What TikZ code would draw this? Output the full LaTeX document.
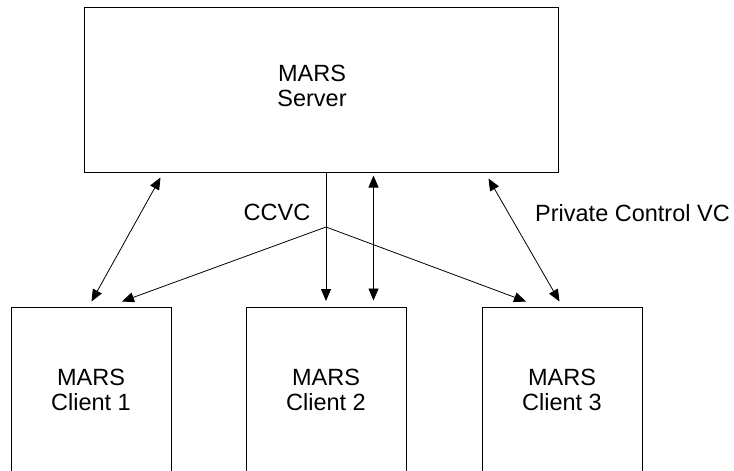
\documentclass[tikz,border=0pt]{standalone}
\usepackage{fontspec}
\setmainfont{Liberation Sans}
\usetikzlibrary{arrows.meta}

\tikzset{
  unit/.style={draw, line width=1pt, minimum width=160pt, minimum height=165pt, inner sep=0pt, align=center},
  vc/.style={line width=0.8pt, -{Triangle[length=12pt,width=10pt]}},
  pvc/.style={line width=0.8pt, {Triangle[length=12pt,width=10pt]}-{Triangle[length=12pt,width=10pt]}},
}

\begin{document}
\begin{tikzpicture}[x=1pt, y=1pt, font=\fontsize{23.5}{25}\selectfont]
    \useasboundingbox (0,0) rectangle (734,-471);
    \clip (0,0) rectangle (734,-471);

    % server and clients
    \node[unit, minimum width=474pt] (server) at (321,-89.5) {};
    \node[align=center, inner sep=0pt] (srvtext) at (312,-86) {MARS\\Server};
    \node[unit] (c1) at (91,-390) {MARS\\Client 1};
    \node[unit] (c2) at (326,-390) {MARS\\Client 2};
    \node[unit] (c3) at (562,-390) {MARS\\Client 3};

    % control VC from the server to all clients
    \coordinate (hub) at (326,-227);
    \draw[line width=0.8pt] (server.south -| hub) -- (hub);
    \draw[vc] (hub) -- ([xshift=31pt,yshift=5.5pt]c1.north);
    \draw[vc] (hub) -- ([yshift=6pt]c2.north);
    \draw[vc] (hub) -- ([xshift=-36pt,yshift=5.5pt]c3.north);

    % private control VCs
    \draw[pvc] ([xshift=77pt,yshift=-5pt]server.south west) -- ([xshift=81pt,yshift=5.5pt]c1.north west);
    \draw[pvc] ([xshift=52.5pt,yshift=-3pt]server.south) -- ([xshift=47.5pt,yshift=6.5pt]c2.north);
    \draw[pvc] ([xshift=-70pt,yshift=-6pt]server.south east) -- ([xshift=-83pt,yshift=5.5pt]c3.north east);

    \node (ccvc) at (277,-212.5) {CCVC};
    \node[anchor=west, inner sep=0pt] (private) at (535,-213) {Private Control VC};
\end{tikzpicture}
\end{document}
